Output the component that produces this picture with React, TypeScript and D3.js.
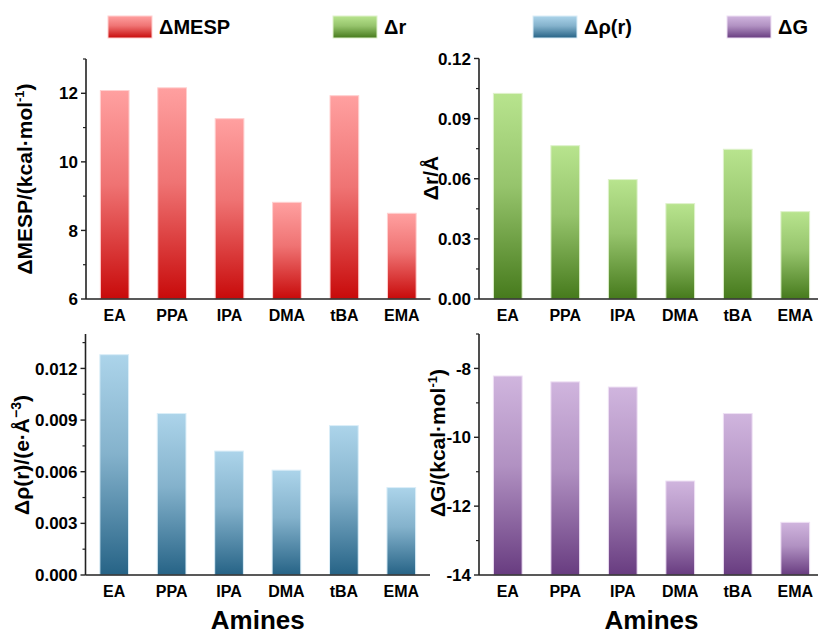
import * as d3 from 'd3';
import React from 'react';

const categories = ['EA', 'PPA', 'IPA', 'DMA', 'tBA', 'EMA'];
const mespValues = [12.08, 12.16, 11.26, 8.82, 11.93, 8.5];
const drValues = [0.1026, 0.0765, 0.0596, 0.0476, 0.0747, 0.0436];
const rhoValues = [0.0128, 0.00938, 0.0072, 0.00609, 0.00868, 0.00508];
const dgValues = [-8.22, -8.39, -8.54, -11.27, -9.31, -12.47];

const mespTicks = [6, 8, 10, 12];
const mespMinor = [7, 9, 11, 13];
const drTicks = [0, 0.03, 0.06, 0.09, 0.12];
const drMinor = [0.015, 0.045, 0.075, 0.105];
const rhoTicks = [0, 0.003, 0.006, 0.009, 0.012];
const rhoMinor = [0.0015, 0.0045, 0.0075, 0.0105, 0.0135];
const dgTicks = [-14, -12, -10, -8];
const dgMinor = [-13, -11, -9, -7];

const legendLabels = ['ΔMESP', 'Δr', 'Δρ(r)', 'ΔG'];

const FONT = '"Liberation Sans", Arial, sans-serif';

// top colour, bottom colour, edge colour
const palettes: Record<string, [string, string, string]> = {
  red: ['#ffa0a0', '#c80a0a', '#ffd0d0'],
  green: ['#b8e48e', '#467a1c', '#dff2cc'],
  blue: ['#acd4ea', '#266386', '#dbeef8'],
  purple: ['#d0b5de', '#683c80', '#eee0f4'],
};

type PanelProps = {
  x0: number;
  x1: number;
  yTop: number;
  yBottom: number;
  domain: [number, number];
  values: number[];
  ticks: number[];
  minor: number[];
  fmt: (v: number) => string;
  color: string;
  title: React.ReactNode;
  titleX: number;
  titleY: number;
  amines?: boolean;
};

function Panel(p: PanelProps) {
  const x = d3.scaleBand<string>().domain(categories).range([p.x0, p.x1]).paddingInner(0.5).paddingOuter(0.25);
  const y = d3.scaleLinear().domain(p.domain).range([p.yBottom, p.yTop]);
  const base = y(p.domain[0]);
  const [, , edge] = palettes[p.color];
  return (
    <g>
      {categories.map((c, i) => (
        <rect
          key={c}
          x={x(c)}
          y={y(p.values[i])}
          width={x.bandwidth()}
          height={base - y(p.values[i])}
          fill={`url(#grad-${p.color})`}
          stroke={edge}
          strokeWidth={1}
        />
      ))}
      <line x1={p.x0} x2={p.x0} y1={p.yBottom} y2={y(p.domain[1])} stroke="#222" strokeWidth={1.6} />
      <line x1={p.x0} x2={p.x1} y1={p.yBottom} y2={p.yBottom} stroke="#222" strokeWidth={1.6} />
      {p.ticks.map((t) => (
        <g key={t}>
          <line x1={p.x0 - 5} x2={p.x0} y1={y(t)} y2={y(t)} stroke="#222" strokeWidth={1.4} />
          <text
            x={p.x0 - 8}
            y={y(t)}
            dy="0.36em"
            textAnchor="end"
            fontSize={17}
            fontWeight="bold"
            fontFamily={FONT}
          >
            {p.fmt(t)}
          </text>
        </g>
      ))}
      {p.minor.map((t) => (
        <line key={t} x1={p.x0 - 3} x2={p.x0} y1={y(t)} y2={y(t)} stroke="#222" strokeWidth={1.2} />
      ))}
      {categories.map((c) => (
        <text
          key={c}
          x={(x(c) as number) + x.bandwidth() / 2}
          y={p.yBottom + 22}
          textAnchor="middle"
          fontSize={16}
          fontWeight="bold"
          fontFamily={FONT}
        >
          {c}
        </text>
      ))}
      <text
        transform={`translate(${p.titleX},${p.titleY}) rotate(-90)`}
        textAnchor="middle"
        dy="0.35em"
        fontSize={21}
        fontWeight="bold"
        fontFamily={FONT}
      >
        {p.title}
      </text>
      {p.amines && (
        <text
          x={(p.x0 + p.x1) / 2}
          y={629}
          textAnchor="middle"
          fontSize={26}
          fontWeight="bold"
          fontFamily={FONT}
        >
          Amines
        </text>
      )}
    </g>
  );
}

export default function App() {
  const f0 = (v: number) => String(v);
  const f2 = d3.format('.2f');
  const f3 = d3.format('.3f');
  const legendX = [108, 333, 533, 727];
  const legendColors = ['red', 'green', 'blue', 'purple'];
  return (
    <svg
      width={818}
      height={634}
      style={{ position: 'absolute', left: 0, top: 0, background: '#fff' }}
    >
      <defs>
        {Object.entries(palettes).map(([k, [top, bottom]]) => (
          <linearGradient key={k} id={`grad-${k}`} x1="0" y1="0" x2="0" y2="1">
            <stop offset="0%" stopColor={top} />
            <stop offset="45%" stopColor={d3.interpolateRgb(top, bottom)(0.3)} />
            <stop offset="100%" stopColor={bottom} />
          </linearGradient>
        ))}
      </defs>
      <rect width={818} height={634} fill="#fff" />

      {legendLabels.map((l, i) => (
        <g key={l}>
          <rect
            x={legendX[i]}
            y={16}
            width={44}
            height={22}
            fill={`url(#grad-${legendColors[i]})`}
            stroke={palettes[legendColors[i]][2]}
          />
          <text x={legendX[i] + 51} y={34} fontSize={20} fontWeight="bold" fontFamily={FONT}>
            {l}
          </text>
        </g>
      ))}

      <Panel
        x0={86}
        x1={430.5}
        yTop={59}
        yBottom={299}
        domain={[6, 13]}
        values={mespValues}
        ticks={mespTicks}
        minor={mespMinor}
        fmt={f0}
        color="red"
        titleX={25}
        titleY={179}
        title={
          <>
            ΔMESP/(kcal·mol
            <tspan fontSize={13} dy={-8}>-1</tspan>
            <tspan dy={8}>)</tspan>
          </>
        }
      />
      <Panel
        x0={479}
        x1={824}
        yTop={58.5}
        yBottom={299}
        domain={[0, 0.12]}
        values={drValues}
        ticks={drTicks}
        minor={drMinor}
        fmt={f2}
        color="green"
        titleX={431}
        titleY={178}
        title="Δr/Å"
      />
      <Panel
        x0={85.5}
        x1={430}
        yTop={334}
        yBottom={575}
        domain={[0, 0.014]}
        values={rhoValues}
        ticks={rhoTicks}
        minor={rhoMinor}
        fmt={f3}
        color="blue"
        titleX={22}
        titleY={455}
        amines
        title={
          <>
            Δρ(r)/(e·Å
            <tspan fontSize={14} dy={-8}>−3</tspan>
            <tspan dy={8}>)</tspan>
          </>
        }
      />
      <Panel
        x0={479}
        x1={824}
        yTop={334}
        yBottom={575}
        domain={[-14, -7]}
        values={dgValues}
        ticks={dgTicks}
        minor={dgMinor}
        fmt={f0}
        color="purple"
        titleX={438}
        titleY={443}
        amines
        title={
          <>
            ΔG/(kcal·mol
            <tspan fontSize={13} dy={-8}>-1</tspan>
            <tspan dy={8}>)</tspan>
          </>
        }
      />
    </svg>
  );
}
